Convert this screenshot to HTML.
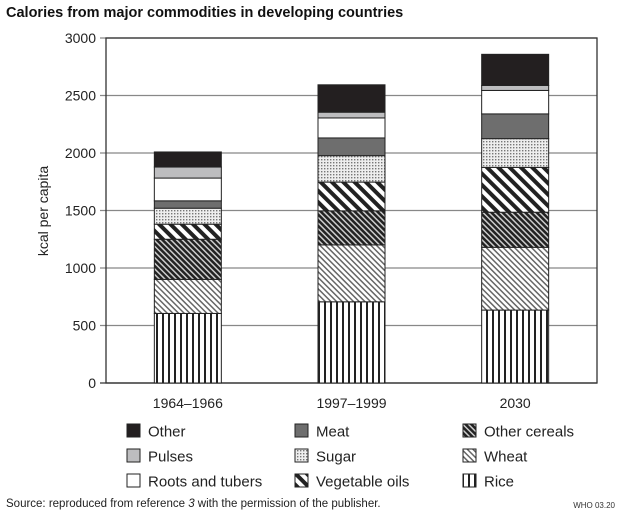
<!DOCTYPE html>
<html><head><meta charset="utf-8"><style>
body{margin:0;background:#fff}
svg{display:block;font-family:"Liberation Sans",Arial,sans-serif}
</style></head><body>
<svg id="chart" width="622" height="515" viewBox="0 0 622 515">
<defs>
<pattern id="p-rice" width="6" height="6" patternUnits="userSpaceOnUse"><rect width="6" height="6" fill="#fff"/><rect x="0" width="2" height="6" fill="#222"/></pattern>
<pattern id="p-wheat" width="4" height="4" patternUnits="userSpaceOnUse" patternTransform="rotate(-45)"><rect width="4" height="4" fill="#fff"/><rect width="1.5" height="4" fill="#666"/></pattern>
<pattern id="p-oc" width="4" height="4" patternUnits="userSpaceOnUse" patternTransform="rotate(-45)"><rect width="4" height="4" fill="#ccc"/><rect width="2.5" height="4" fill="#222"/></pattern>
<pattern id="p-vo" width="8" height="8" patternUnits="userSpaceOnUse" patternTransform="rotate(-45)"><rect width="8" height="8" fill="#fff"/><rect width="4" height="8" fill="#222"/></pattern>
<pattern id="p-sugar" width="3" height="3" patternUnits="userSpaceOnUse"><rect width="3" height="3" fill="#eee"/><rect width="1.4" height="1.4" fill="#777"/></pattern>
</defs>
<text x="6" y="17" font-size="14.5" font-weight="bold" fill="#111">Calories from major commodities in developing countries</text>
<text transform="translate(48,211) rotate(-90)" text-anchor="middle" font-size="14" fill="#222">kcal per capita</text>
<g id="grid"></g><g id="bars"></g><g id="legend"></g>
<text x="6" y="507" font-size="11.5" fill="#222">Source: reproduced from reference <tspan font-style="italic">3</tspan> with the permission of the publisher.</text>
<text x="615" y="508" text-anchor="end" font-size="8" fill="#333">WHO 03.20</text>
</svg>
<script>
const categories = ["1964–1966", "1997–1999", "2030"];
const seriesNames = ["Rice", "Wheat", "Other cereals", "Vegetable oils", "Sugar", "Meat", "Roots and tubers", "Pulses", "Other"];
const rice = [605, 706, 634];
const wheat = [296, 495, 546];
const otherCereals = [349, 296, 305];
const vegOils = [131, 250, 390];
const sugar = [139, 230, 250];
const meat = [64, 154, 215];
const roots = [198, 174, 204];
const pulses = [96, 50, 43];
const other = [131, 238, 271];
const yTicks = [0, 500, 1000, 1500, 2000, 2500, 3000];

const series = [rice, wheat, otherCereals, vegOils, sugar, meat, roots, pulses, other];
const fills = ["url(#p-rice)","url(#p-wheat)","url(#p-oc)","url(#p-vo)","url(#p-sugar)","#6e6e6e","#fff","#bdbdbf","#231f20"];
const NS = "http://www.w3.org/2000/svg";
const X0 = 106, X1 = 597, Y0 = 383, Y1 = 38;
const y = v => Y0 - (v / 3000) * (Y0 - Y1);
const band = (X1 - X0) / categories.length;
const xc = i => X0 + band * (i + 0.5);
const BW = 67;
function mk(tag, attrs, parent) { const e = document.createElementNS(NS, tag); for (const k in attrs) e.setAttribute(k, attrs[k]); parent.appendChild(e); return e; }
const grid = document.getElementById('grid');
yTicks.forEach(t => {
  const l = mk('line', {x1: X0 - 6, x2: X1, y1: y(t), y2: y(t), stroke: t === 0 ? '#333' : '#888', 'stroke-width': 1.3}, grid);
  
  
  const tx = mk('text', {x: 96, y: y(t) + 5, 'text-anchor': 'end', 'font-size': 14, fill: '#222'}, grid);
  tx.textContent = t;
  
  
});
const frame = mk('rect', {x: X0, y: Y1, width: X1 - X0, height: Y0 - Y1, fill: 'none', stroke: '#333', 'stroke-width': 1.3}, grid);


const bars = document.getElementById('bars');
categories.forEach((c, i) => {
  let acc = 0;
  series.forEach((s, k) => {
    const v = s[i];
    const r = mk('rect', {x: xc(i) - BW / 2, y: y(acc + v), width: BW, height: y(acc) - y(acc + v), fill: fills[k], stroke: '#222', 'stroke-width': 1}, bars);
    
    
    acc += v;
  });
  const t = mk('text', {x: xc(i), y: 408, 'text-anchor': 'middle', 'font-size': 14, fill: '#222'}, bars);
  t.textContent = c;
  
  
});
const legend = document.getElementById('legend');
const legOrder = [[8, 5, 2], [7, 4, 1], [6, 3, 0]];
const colX = [127, 295, 463];
legOrder.forEach((row, ri) => row.forEach((k, ci) => {
  const yy = 431 + ri * 25;
  const sw = mk('rect', {x: colX[ci], y: yy - 7, width: 13, height: 13, fill: fills[k], stroke: '#222', 'stroke-width': 1}, legend);
  
  
  const t = mk('text', {x: colX[ci] + 21, y: yy + 5.5, 'font-size': 15, fill: '#222'}, legend);
  t.textContent = seriesNames[k];
  
  
}));
</script>
</body></html>
